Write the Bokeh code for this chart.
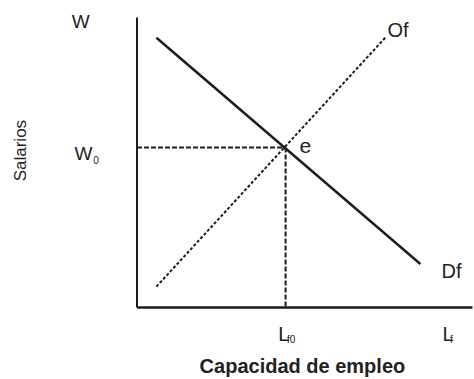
from bokeh.plotting import figure
from bokeh.models import Range1d
from bokeh.core.properties import value
from bokeh.embed import file_html
from bokeh.resources import INLINE
import math

# ---- data (abstract units: origin at axis intersection) ----
demand_x = [0.59, 8.60]     # Df
demand_y = [9.30, 1.50]
supply_x = [0.59, 7.54]     # Of
supply_y = [0.72, 9.31]
eq_x = 4.51                 # Lf0
eq_y = 5.52                 # W0
axis_x_end = 10.18
axis_y_end = 10.0

y_axis_title = "Salarios"
x_axis_title = "Capacidad de empleo"

FONT = value("Liberation Sans")
INK = "#1c1c1c"
TXT = "#222222"

p = figure(width=474, height=379, output_backend="svg", toolbar_location=None,
           x_range=Range1d(-4.143, 10.243), y_range=Range1d(-2.483, 10.586),
           x_axis_location=None, y_axis_location=None, min_border=0)
p.grid.visible = False
p.outline_line_color = None
p.background_fill_color = "white"
p.border_fill_color = "white"

# axes as lines
p.line([0, 0], [0, axis_y_end], line_color=INK, line_width=2)
p.line([0, axis_x_end], [0, 0], line_color=INK, line_width=2.6)

# reference dashed lines to equilibrium
p.line([0, eq_x], [eq_y, eq_y], line_color=INK, line_width=2, line_dash="5 2")
p.line([eq_x, eq_x], [eq_y, 0], line_color=INK, line_width=2, line_dash="5 2")

# supply (dotted) and demand (solid)
p.line(supply_x, supply_y, line_color=INK, line_width=2, line_dash="3 2")
p.line(demand_x, demand_y, line_color=INK, line_width=2.5)

BIG = 0.24    # baseline correction for large labels
SMALL = 0.13  # baseline correction for subscripts

def txt(x, y, s, size, align="left", bold=False, angle=0.0, baseline="alphabetic"):
    p.text(x=[x], y=[y], text=[s], text_font=FONT, text_font_size=size,
           text_align=align, text_baseline=baseline, text_color=TXT,
           text_font_style="bold" if bold else "normal", angle=angle)

# labels
txt(-1.71, 9.62 + BIG, "W", "19px", align="center")
txt(-1.35, 5.07 + BIG, "W", "19px", align="right")
txt(-1.33, 4.97 + SMALL, "0", "10px")
txt(4.93, 5.34 + BIG, "e", "21px")
txt(7.60, 9.34 + BIG, "Of", "20px")
txt(9.24, 1.03 + BIG, "Df", "20px")
txt(4.29, -1.14 + BIG, "L", "20px")
txt(4.55, -1.24 + SMALL, "f0", "10px")
txt(9.27, -1.14 + BIG, "L", "20px")
txt(9.50, -1.24 + SMALL, "f", "10px")

# axis titles
txt(-3.55, 5.41, y_axis_title, "17px", align="center", angle=math.pi / 2, baseline="middle")
txt(5.02, -2.25 + BIG, x_axis_title, "20px", align="center", bold=True)

open("out.html", "w").write(file_html(p, INLINE))
